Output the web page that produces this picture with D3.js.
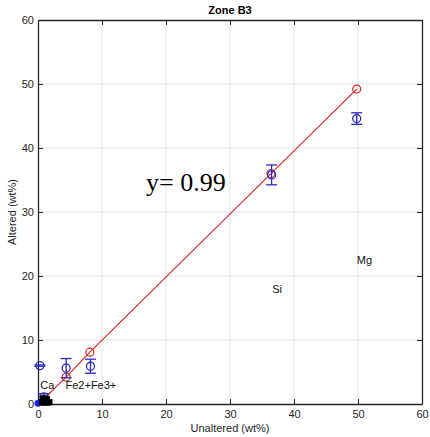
<!DOCTYPE html>
<html>
<head>
<meta charset="utf-8">
<script src="https://cdn.jsdelivr.net/npm/d3@7"></script>
<style>
  html, body { margin: 0; padding: 0; background: #fff; }
  svg { display: block; }
</style>
</head>
<body>
<svg id="chart" width="430" height="437"></svg>
<script>
// Oxide composition, unaltered vs altered rock (wt%)
const xTicks = [0, 10, 20, 30, 40, 50, 60];
const yTicks = [0, 10, 20, 30, 40, 50, 60];

// Reference line points (red)
const refX = [0.4, 1.0, 4.4, 8.1, 36.4, 49.8];
const refY = [0.3, 0.9, 4.2, 8.1, 36.0, 49.2];

// Measured means with standard deviation (blue)
const measX = [0.3, 0.9, 4.4, 8.2, 36.5, 49.8];
const measY = [6.0, 1.1, 5.6, 5.9, 35.8, 44.6];
const measErr = [0.1, 0.5, 1.5, 1.1, 1.55, 0.9];

// Minor elements near the origin (black squares)
const minorX = [0.6, 0.9, 1.2, 1.5, 1.8, 0.8, 1.4];
const minorY = [0.3, 0.2, 0.4, 0.2, 0.3, 0.9, 0.8];

// Element labels
const labelText = ["Ca", "Fe2+Fe3+", "Si", "Mg"];
const labelX = [0.35, 4.3, 36.6, 49.8];
const labelY = [3.0, 3.0, 18.0, 22.4];

const slopeText = "y= 0.99";

const svg = d3.select("#chart");
const m = { left: 38, top: 20, right: 8, bottom: 33 };
const W = 430 - m.left - m.right;   // 384
const H = 437 - m.top - m.bottom;   // 384

const x = d3.scaleLinear().domain([0, 60]).range([m.left, m.left + W]);
const y = d3.scaleLinear().domain([0, 60]).range([m.top + H, m.top]);

const axisColor = "#262626";
const font = "Liberation Sans, Arial, Helvetica, sans-serif";

// grid
const grid = svg.append("g");
grid.selectAll("line.gx").data(xTicks.slice(1, -1)).join("line")
  .attr("x1", d => x(d)).attr("x2", d => x(d))
  .attr("y1", m.top).attr("y2", m.top + H)
  .attr("stroke", "#dfdfdf").attr("stroke-width", 1);
grid.selectAll("line.gy").data(yTicks.slice(1, -1)).join("line")
  .attr("y1", d => y(d)).attr("y2", d => y(d))
  .attr("x1", m.left).attr("x2", m.left + W)
  .attr("stroke", "#dfdfdf").attr("stroke-width", 1);

// axes with inward ticks
const tl = 5;
const xAxis = d3.axisBottom(x).tickValues(xTicks).tickSizeInner(-tl).tickSizeOuter(0).tickPadding(6);
const yAxis = d3.axisLeft(y).tickValues(yTicks).tickSizeInner(-tl).tickSizeOuter(0).tickPadding(4);
const xTop = d3.axisTop(x).tickValues(xTicks).tickSizeInner(-tl).tickSizeOuter(0).tickFormat("");
const yRight = d3.axisRight(y).tickValues(yTicks).tickSizeInner(-tl).tickSizeOuter(0).tickFormat("");

function style(g) {
  g.select(".domain").attr("stroke", axisColor).attr("stroke-width", 1.3);
  g.selectAll(".tick line").attr("stroke", axisColor).attr("stroke-width", 1);
  g.selectAll(".tick text").attr("fill", axisColor).style("font-family", font).style("font-size", "11px");
}
svg.append("g").attr("transform", `translate(0,${m.top + H})`).call(xAxis).call(style);
svg.append("g").attr("transform", `translate(${m.left},0)`).call(yAxis).call(style);
svg.append("g").attr("transform", `translate(0,${m.top})`).call(xTop).call(style);
svg.append("g").attr("transform", `translate(${m.left + W},0)`).call(yRight).call(style);

// reference line and circles
const refPts = refX.map((v, i) => [v, refY[i]]);
svg.append("path").datum(refPts)
  .attr("d", d3.line().x(d => x(d[0])).y(d => y(d[1])))
  .attr("fill", "none").attr("stroke", "#d42a2a").attr("stroke-width", 1.2);
svg.selectAll("circle.ref").data(refPts.filter(d => d[0] > 3)).join("circle")
  .attr("cx", d => x(d[0])).attr("cy", d => y(d[1])).attr("r", 4)
  .attr("fill", "none").attr("stroke", "#d42a2a").attr("stroke-width", 1.2);

// measured points with error bars
const blue = "#2b2bbd";
const meas = measX.map((v, i) => ({ x: v, y: measY[i], e: measErr[i] }));
const eb = svg.append("g").attr("stroke", blue).attr("stroke-width", 1.3).attr("fill", "none");
const cap = 5.5;
meas.forEach(d => {
  eb.append("line").attr("x1", x(d.x)).attr("x2", x(d.x)).attr("y1", y(d.y - d.e)).attr("y2", y(d.y + d.e));
  eb.append("line").attr("x1", x(d.x) - cap).attr("x2", x(d.x) + cap).attr("y1", y(d.y - d.e)).attr("y2", y(d.y - d.e));
  eb.append("line").attr("x1", x(d.x) - cap).attr("x2", x(d.x) + cap).attr("y1", y(d.y + d.e)).attr("y2", y(d.y + d.e));
  eb.append("circle").attr("cx", x(d.x)).attr("cy", y(d.y)).attr("r", 4);
});

// origin marker
svg.append("circle").attr("cx", x(0)).attr("cy", y(0.1)).attr("r", 3.5).attr("fill", "#1c1cf0");

// minor elements
svg.selectAll("rect.minor").data(minorX.map((v, i) => [v, minorY[i]])).join("rect")
  .attr("x", d => x(d[0]) - 3).attr("y", d => y(d[1]) - 3)
  .attr("width", 6).attr("height", 6).attr("fill", "#000");

// element labels
svg.selectAll("text.lbl").data(labelText).join("text")
  .attr("x", (d, i) => x(labelX[i])).attr("y", (d, i) => y(labelY[i]))
  .attr("dy", "0.35em")
  .style("font-family", font).style("font-size", "11px").attr("fill", "#111")
  .text(d => d);

// slope annotation
svg.append("text").attr("x", 146).attr("y", 191)
  .style("font-family", "Liberation Serif, Times New Roman, serif").style("font-size", "26px")
  .attr("fill", "#000").text(slopeText);

// titles
svg.append("text").attr("x", m.left + W / 2).attr("y", 14).attr("text-anchor", "middle")
  .style("font-family", font).style("font-size", "11px").style("font-weight", "bold")
  .attr("fill", "#000").text("Zone B3");
svg.append("text").attr("x", m.left + W / 2).attr("y", 432).attr("text-anchor", "middle")
  .style("font-family", font).style("font-size", "11px").attr("fill", axisColor)
  .text("Unaltered (wt%)");
svg.append("text").attr("transform", `translate(16,${m.top + H / 2}) rotate(-90)`)
  .attr("text-anchor", "middle")
  .style("font-family", font).style("font-size", "11px").attr("fill", axisColor)
  .text("Altered (wt%)");
</script>
</body>
</html>
